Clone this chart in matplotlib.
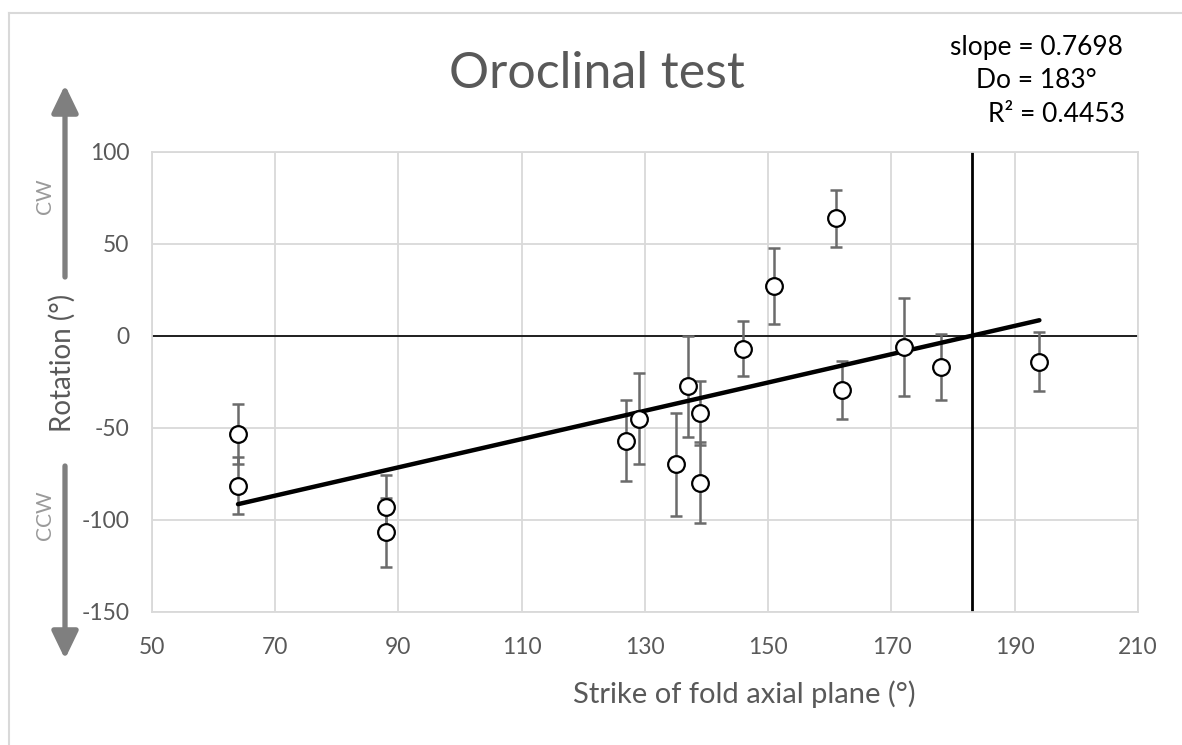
import numpy as np
import matplotlib
matplotlib.use("Agg")
import matplotlib.pyplot as plt
from matplotlib.lines import Line2D

# data
strike = [64, 64, 88, 88, 127, 129, 135, 137, 139, 139, 146, 151, 161, 162, 172, 178, 194]
rotation = [-53.5, -81.5, -93, -107, -57, -45, -70, -27.5, -42, -80, -7, 27, 64, -29.5, -6, -17, -14]
rot_err = [16.5, 15.5, 17, 19, 22, 24.5, 28, 27.5, 17.5, 22, 15, 20.5, 15.5, 16, 26.5, 18, 16]

slope = 0.7698
Do = 183
r2 = 0.4453

xticks = list(range(50, 211, 20))
yticks = list(range(-150, 101, 50))

plt.rcParams['font.family'] = ['Lato', 'DejaVu Sans']
plt.rcParams['axes.unicode_minus'] = False
W, H = 1182, 745
txt = '#595959'

fig = plt.figure(figsize=(W/100, H/100), dpi=100)
ax = fig.add_axes([151.7/W, 1-611.5/H, (1138-151.7)/W, (611.5-152)/H])
ax.set_xlim(50, 210)
ax.set_ylim(-150, 100)
ax.set_xticks(xticks)
ax.set_yticks(yticks)
ax.grid(True, color='#d9d9d9', lw=1.3)
ax.set_axisbelow(True)
for s in ax.spines.values():
    s.set_color('#d9d9d9')
    s.set_linewidth(1.3)
ax.tick_params(axis='both', length=0, labelsize=16.5, colors=txt)
ax.tick_params(axis='y', pad=16)
ax.tick_params(axis='x', pad=18)

ax.axhline(0, color='black', lw=1.2, zorder=2)
ax.axvline(Do, color='black', lw=2, zorder=2)

# trend line
xs = np.array([min(strike), max(strike)])
ax.plot(xs, slope*(xs-Do), color='black', lw=3.2, solid_capstyle='round', zorder=4)

ax.errorbar(strike, rotation, yerr=rot_err, fmt='none', ecolor='#6b6b6b',
            elinewidth=1.8, capsize=4.5, capthick=1.8, zorder=3)
ax.plot(strike, rotation, 'o', ms=12, mfc='white', mec='black', mew=1.6, zorder=5)

# texts
fig.text(597/W, 1-74/H, 'Oroclinal test', ha='center', va='center', fontsize=36, color=txt)
fig.text(744/W, 1-694/H, 'Strike of fold axial plane (°)', ha='center', va='center',
         fontsize=21, color=txt)
fig.text(62/W, 1-363/H, 'Rotation (°)', ha='center', va='center', rotation=90,
         fontsize=20, color=txt)
fig.text(1036/W, 1-47/H, f'slope = {slope}', ha='center', va='center', fontsize=19, color='black')
fig.text(1036/W, 1-80/H, f'Do = {Do}°', ha='center', va='center', fontsize=19, color='black')
fig.text(1056/W, 1-114/H, f'R² = {r2}', ha='center', va='center', fontsize=19, color='black')

fig.text(45/W, 1-196/H, 'CW', ha='center', va='center', rotation=90, fontsize=15, color='#9a9a9a')
fig.text(45/W, 1-515/H, 'CCW', ha='center', va='center', rotation=90, fontsize=15, color='#9a9a9a')

arrow = dict(arrowstyle='-|>,head_length=1.66,head_width=0.8', mutation_scale=10,
             lw=3.8, color='#7f7f7f', shrinkA=0, shrinkB=0)
ax.annotate('', xy=(65, H-85), xytext=(65, H-277), xycoords='figure pixels',
            textcoords='figure pixels', arrowprops=arrow, annotation_clip=False)
ax.annotate('', xy=(65, H-659), xytext=(65, H-466), xycoords='figure pixels',
            textcoords='figure pixels', arrowprops=arrow, annotation_clip=False)

# chart area border (partly visible)
fig.add_artist(Line2D([9/W, 9/W], [0, 1-12.5/H], transform=fig.transFigure, color='#d9d9d9', lw=1.5))
fig.add_artist(Line2D([9/W, 1], [1-12.5/H, 1-12.5/H], transform=fig.transFigure, color='#d9d9d9', lw=1.5))

fig.savefig('out.png', dpi=100)
